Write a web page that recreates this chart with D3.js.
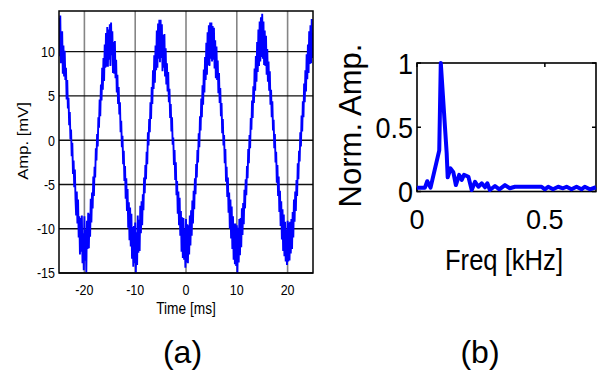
<!DOCTYPE html>
<html>
<head>
<meta charset="utf-8">
<script src="https://cdn.jsdelivr.net/npm/d3@7"></script>
<style>
body { margin: 0; background: #fff; }
text { font-family: "Liberation Sans", Arial, sans-serif; fill: #000; }
</style>
</head>
<body>
<div id="chart"></div>
<script>
// panel (a): recorded signal, one sample every 0.125 ms starting at -25 ms
var tStart = -25, tStep = 0.125;
var ampMv = [
  // -25 ms
  13.8, 9.5, 14.1, 8.7, 11.4, 12.3, 7.5, 10.7, 7.2, 10.1, 6.8, 8.2, 4.6, 6.8, 3.6, 4.8, 1.7, 3.2, 0.1, 1.2,
  -1.8, -0.3, -3.8, -2.3, -5.3, -3.3, -6.7, -8.5, -5.8, -9.4, -6.7, -11.0, -8.6, -12.9, -8.8, -12.6, -8.5, -13.9, -10.5, -14.7,
  // -20 ms
  -8.6, -13.6, -10.1, -15.0, -9.1, -12.3, -8.2, -12.2, -8.3, -10.9, -6.6, -9.3, -5.9, -7.7, -4.1, -6.3, -3.0, -4.2, -0.9, -2.3,
  0.7, -0.7, 2.6, 1.4, 4.6, 2.7, 6.3, 4.5, 8.2, 5.7, 9.3, 6.7, 10.8, 8.2, 12.1, 8.3, 12.8, 8.3, 12.5, 9.1,
  // -15 ms
  13.1, 8.4, 13.3, 9.6, 12.3, 7.6, 11.1, 7.5, 11.2, 7.0, 9.1, 5.4, 7.4, 4.1, 6.0, 2.9, 4.3, 0.9, 2.2, -0.8,
  0.5, -2.7, -1.2, -4.6, -2.9, -6.6, -4.3, -8.0, -5.5, -9.9, -7.0, -11.3, -7.6, -12.0, -8.3, -13.4, -9.8, -14.3, -9.7, -13.9,
  // -10 ms
  -9.3, -15.0, -10.4, -14.1, -8.5, -12.7, -9.0, -12.5, -7.4, -10.5, -6.9, -9.6, -6.1, -7.9, -4.2, -6.0, -2.8, -4.4, -1.3, -2.7,
  0.9, -0.6, 2.4, 0.9, 4.3, 2.4, 6.0, 4.1, 7.9, 5.8, 9.6, 6.5, 10.7, 7.9, 12.4, 8.2, 13.2, 9.2, 13.6, 8.8,
  // -5 ms
  13.6, 9.3, 13.1, 7.8, 11.9, 8.2, 12.0, 7.2, 10.4, 6.3, 8.7, 5.5, 7.7, 4.3, 5.8, 2.5, 4.1, 1.0, 2.6, -0.5,
  0.3, -2.8, -1.1, -4.5, -2.5, -6.2, -4.6, -8.3, -5.8, -9.6, -6.5, -10.8, -8.0, -12.6, -8.7, -13.3, -8.8, -13.5, -10.0, -14.4,
  // 0 ms
  -8.9, -13.8, -9.5, -13.9, -9.6, -12.9, -8.5, -11.9, -7.9, -10.8, -6.8, -9.4, -5.7, -7.8, -4.3, -6.1, -2.7, -4.2, -1.1, -2.5,
  0.8, -0.8, 2.7, 1.1, 4.7, 2.6, 6.2, 4.0, 8.0, 5.4, 9.4, 6.8, 11.0, 7.4, 12.2, 8.5, 13.0, 8.4, 13.3, 9.2,
  // 5 ms
  13.3, 8.9, 12.9, 9.1, 12.7, 8.1, 11.3, 7.0, 10.6, 6.8, 9.0, 5.3, 7.6, 4.2, 5.9, 2.7, 4.2, 0.8, 2.4, -0.6,
  0.6, -2.6, -1.0, -4.7, -3.0, -6.4, -4.2, -8.2, -5.9, -10.0, -6.7, -11.1, -7.5, -12.3, -8.6, -13.5, -9.4, -14.0, -9.4, -14.2,
  // 10 ms
  -9.6, -15.0, -9.9, -13.8, -8.9, -13.0, -8.8, -12.1, -7.7, -10.7, -7.1, -9.5, -5.6, -7.7, -4.4, -6.2, -2.9, -4.3, -1.0, -2.6,
  0.6, -0.9, 2.5, 1.2, 4.5, 2.5, 6.1, 4.2, 8.1, 5.6, 9.5, 6.6, 11.1, 7.7, 12.5, 8.4, 13.4, 8.9, 13.9, 9.4,
  // 15 ms
  14.3, 9.2, 13.4, 8.5, 12.4, 8.4, 11.8, 7.4, 10.3, 6.6, 8.9, 5.6, 7.8, 4.0, 5.7, 2.6, 4.4, 1.1, 2.3, -0.9,
  0.7, -2.5, -1.3, -4.8, -2.8, -6.3, -4.1, -8.1, -5.7, -9.7, -6.9, -11.2, -7.8, -12.5, -8.4, -13.1, -9.2, -13.7, -10.1, -14.1,
  // 20 ms
  -9.1, -13.7, -9.3, -13.6, -9.2, -12.8, -8.9, -12.3, -8.1, -11.0, -6.7, -9.2, -5.8, -8.0, -4.5, -6.3, -2.6, -4.4, -1.2, -2.4,
  0.9, -0.7, 2.8, 1.0, 4.4, 2.6, 6.4, 4.3, 7.9, 5.5, 9.7, 6.9, 10.8, 7.6, 12.3, 8.6, 13.0, 8.7, 13.7, 9.3,
  // 25 ms
  12.1
];
var timeTicks = [-20, -10, 0, 10, 20];
var ampTicks = [-15, -10, -5, 0, 5, 10];

// panel (b): normalised spectrum
var freqKhz = [0, 0.031, 0.040, 0.053, 0.087, 0.093, 0.116, 0.120, 0.131, 0.142, 0.152, 0.165, 0.175, 0.184,
  0.201, 0.214, 0.227, 0.240, 0.253, 0.266, 0.275, 0.285, 0.305, 0.322, 0.344, 0.363, 0.383, 0.487, 0.500,
  0.513, 0.532, 0.552, 0.571, 0.585, 0.604, 0.624, 0.643, 0.656, 0.676, 0.700];
var normAmp = [0.03, 0.03, 0.08, 0.03, 0.32, 1.0, 0.30, 0.11, 0.18, 0.15, 0.05, 0.13, 0.09, 0.13,
  0.115, 0.012, 0.076, 0.037, 0.064, 0.033, 0.064, 0.012, 0.043, 0.017, 0.05, 0.025, 0.037, 0.037, 0.017,
  0.037, 0.017, 0.037, 0.025, 0.037, 0.017, 0.037, 0.017, 0.037, 0.017, 0.033];
var freqTicks = [0, 0.5];
var normTicks = [0, 0.5, 1];

var svg = d3.select("#chart").append("svg")
  .attr("width", 598).attr("height", 370);

// text helper: the original bitmap is a bit stretched, so scale the glyphs
function label(x, y, s, size, anchor, sx, sy, rot) {
  var g = svg.append("g")
    .attr("transform", "translate(" + x + "," + y + ")" + (rot ? " rotate(" + rot + ")" : "") +
      " scale(" + sx + "," + sy + ")");
  return g.append("text")
    .attr("text-anchor", anchor)
    .attr("font-family", "Liberation Sans, Arial, sans-serif")
    .style("font-size", size + "px")
    .text(s);
}

// ---------- panel (a) ----------
var xa = d3.scaleLinear().domain([-25, 25]).range([59, 313]);
var ya = d3.scaleLinear().domain([-15, 14.6]).range([273, 11]);

svg.append("defs").append("clipPath").attr("id", "clipA")
  .append("rect").attr("x", 59).attr("y", 11).attr("width", 254).attr("height", 262);

// grid
svg.append("g").selectAll("line").data(timeTicks).join("line")
  .attr("x1", d => xa(d)).attr("x2", d => xa(d))
  .attr("y1", 11).attr("y2", 273)
  .attr("stroke", "#858585").attr("stroke-width", 1.6);
svg.append("g").selectAll("line").data(ampTicks).join("line")
  .attr("x1", 59).attr("x2", 313)
  .attr("y1", d => ya(d)).attr("y2", d => ya(d))
  .attr("stroke", "#111").attr("stroke-width", 1.3);

var lineA = d3.line()
  .x((d, i) => xa(tStart + i * tStep))
  .y(d => ya(d));
svg.append("path")
  .datum(ampMv)
  .attr("clip-path", "url(#clipA)")
  .attr("fill", "none")
  .attr("stroke", "#0000ff")
  .attr("stroke-width", 1.9)
  .attr("d", lineA);

svg.append("rect").attr("x", 59).attr("y", 11).attr("width", 254).attr("height", 262)
  .attr("fill", "none").attr("stroke", "#000").attr("stroke-width", 1.5);

ampTicks.forEach(function(v) {
  label(55, ya(v), v, 12.5, "end", 1, 1.2).attr("dy", "0.36em");
});
timeTicks.forEach(function(v) {
  label(xa(v), 294.5, v, 12.5, "middle", 1, 1.2);
});
label(186, 314, "Time [ms]", 13.7, "middle", 1, 1.15);
label(28, 141, "Amp. [mV]", 14, "middle", 1.19, 1, -90);

// ---------- panel (b) ----------
var xb = d3.scaleLinear().domain([0, 0.7]).range([417, 596]);
var yb = d3.scaleLinear().domain([0, 1]).range([191.5, 63]);

svg.append("rect").attr("x", 417).attr("y", 63).attr("width", 179).attr("height", 128.5)
  .attr("fill", "none").attr("stroke", "#000").attr("stroke-width", 1.6);

// inward ticks on all four sides
var tk = 4;
svg.append("g").selectAll("line").data(freqTicks).join("line")
  .attr("x1", d => xb(d)).attr("x2", d => xb(d))
  .attr("y1", 191.5).attr("y2", 191.5 - tk)
  .attr("stroke", "#000").attr("stroke-width", 1.5);
svg.append("g").selectAll("line").data(freqTicks).join("line")
  .attr("x1", d => xb(d)).attr("x2", d => xb(d))
  .attr("y1", 63).attr("y2", 63 + tk)
  .attr("stroke", "#000").attr("stroke-width", 1.5);
svg.append("g").selectAll("line").data(normTicks).join("line")
  .attr("x1", 417).attr("x2", 417 + tk)
  .attr("y1", d => yb(d)).attr("y2", d => yb(d))
  .attr("stroke", "#000").attr("stroke-width", 1.5);
svg.append("g").selectAll("line").data(normTicks).join("line")
  .attr("x1", 596).attr("x2", 596 - tk)
  .attr("y1", d => yb(d)).attr("y2", d => yb(d))
  .attr("stroke", "#000").attr("stroke-width", 1.5);

var lineB = d3.line()
  .x((d, i) => xb(freqKhz[i]))
  .y(d => yb(d));
svg.append("path")
  .datum(normAmp)
  .attr("fill", "none")
  .attr("stroke", "#0000ff")
  .attr("stroke-width", 4)
  .attr("stroke-linejoin", "round")
  .attr("d", lineB);

normTicks.forEach(function(v) {
  label(413, yb(v), v, 27, "end", 1, 1.08).attr("dy", "0.36em");
});
freqTicks.forEach(function(v) {
  label(xb(v), 228.5, v, 27, "middle", 1, 1.0);
});
label(504, 270, "Freq [kHz]", 25.6, "middle", 1, 1.15);
label(361, 125.5, "Norm. Amp.", 32, "middle", 0.97, 1, -90);

// panel captions
label(182.5, 362.5, "(a)", 32, "middle", 1, 1).attr("font-family", "Open Sans, sans-serif");
label(480, 362.5, "(b)", 32, "middle", 1, 1).attr("font-family", "Open Sans, sans-serif");
</script>
</body>
</html>
